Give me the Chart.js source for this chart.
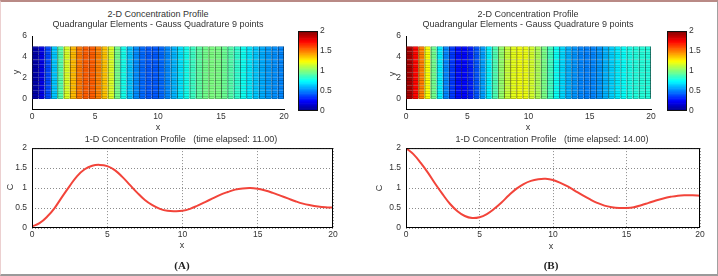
<!DOCTYPE html>
<html><head><meta charset="utf-8">
<script src="https://cdn.jsdelivr.net/npm/chart.js@4.4.1/dist/chart.umd.min.js"></script>
<style>
html,body{margin:0;padding:0;background:#fff;}
#wrap{position:relative;width:718px;height:276px;overflow:hidden;background:#fff;}
#frame{position:absolute;left:0;top:0;width:716px;height:272px;border-top:2px solid #b98a86;border-left:1px solid #ecd0d0;border-right:1px solid #a0a0a0;border-bottom:2px solid #9a9a9a;}
canvas{position:absolute;}
.t{position:absolute;transform:translate(-50%,-50%);font-family:"Liberation Sans",Arial,sans-serif;font-size:9px;color:#333;white-space:pre;line-height:1;}
.r{transform:translate(-50%,-50%) rotate(-90deg);}
.p{font-family:"Liberation Serif",serif;font-weight:bold;font-size:11px;color:#222;}
</style></head>
<body>
<div id="wrap">
<div id="frame"></div>
<canvas id="heatA" width="292" height="104" style="left:0;top:26px"></canvas>
<canvas id="cbarA" width="40" height="94" style="left:292px;top:24px"></canvas>
<canvas id="lineA" width="340" height="104" style="left:0;top:138px"></canvas>
<canvas id="heatB" width="300" height="104" style="left:360px;top:26px"></canvas>
<canvas id="cbarB" width="40" height="94" style="left:661px;top:24px"></canvas>
<canvas id="lineB" width="350" height="104" style="left:360px;top:138px"></canvas>

<div class="t" style="left:158px;top:14px">2-D Concentration Profile</div>
<div class="t" style="left:158px;top:23.5px">Quadrangular Elements - Gauss Quadrature 9 points</div>
<div class="t" style="left:158px;top:127px">x</div>
<div class="t r" style="left:16px;top:72px">y</div>
<div class="t" style="left:181px;top:139px">1-D Concentration Profile   (time elapsed: 11.00)</div>
<div class="t" style="left:182px;top:245px">x</div>
<div class="t r" style="left:10px;top:187px">C</div>
<div class="t p" style="left:182px;top:265px">(A)</div>

<div class="t" style="left:528px;top:14px">2-D Concentration Profile</div>
<div class="t" style="left:528px;top:23.5px">Quadrangular Elements - Gauss Quadrature 9 points</div>
<div class="t" style="left:528px;top:127px">x</div>
<div class="t r" style="left:392px;top:74px">y</div>
<div class="t" style="left:552px;top:139px">1-D Concentration Profile   (time elapsed: 14.00)</div>
<div class="t" style="left:551px;top:246px">x</div>
<div class="t r" style="left:379px;top:188px">C</div>
<div class="t p" style="left:551px;top:265px">(B)</div>
</div>
<script>
// ---- data ----
const xNodes = [0,0.5,1,1.5,2,2.5,3,3.5,4,4.5,5,5.5,6,6.5,7,7.5,8,8.5,9,9.5,10,10.5,11,11.5,12,12.5,13,13.5,14,14.5,15,15.5,16,16.5,17,17.5,18,18.5,19,19.5,20];
const concA = [0.04,0.12,0.28,0.5,0.78,1.05,1.3,1.47,1.56,1.58,1.55,1.45,1.28,1.08,0.88,0.7,0.57,0.48,0.43,0.42,0.43,0.48,0.56,0.65,0.74,0.83,0.9,0.96,0.99,1.0,0.98,0.94,0.88,0.81,0.74,0.67,0.61,0.57,0.54,0.52,0.51];
const concB = [2.0,1.85,1.63,1.38,1.1,0.84,0.6,0.42,0.3,0.25,0.27,0.35,0.48,0.64,0.82,0.98,1.1,1.18,1.22,1.23,1.2,1.13,1.04,0.93,0.82,0.72,0.63,0.56,0.52,0.5,0.5,0.52,0.57,0.63,0.69,0.74,0.78,0.81,0.82,0.82,0.81];
const meshRows = [0,0.25,0.5,0.75,1,1.25,1.5,1.75,2,2.25,2.5,2.75,3,3.25,3.5,3.75,4,4.25,4.5,4.75,5];
const xTicks = [0,5,10,15,20];
const heatYTicks = [0,2,4,6];
const lineYTicks = [0,0.5,1,1.5,2];
const cbarTicks = [0,0.5,1,1.5,2];
const cMax = 2;

Chart.defaults.font.family = '"Liberation Sans", Arial, sans-serif';
Chart.defaults.font.size = 8.5;
Chart.defaults.color = '#333';

function jet(t){
  t = Math.max(0, Math.min(1, t));
  const f = v => Math.round(255 * Math.max(0, Math.min(1, v)));
  return [f(1.5-Math.abs(4*t-3)), f(1.5-Math.abs(4*t-2)), f(1.5-Math.abs(4*t-1))];
}
const rgb = (c,k=1) => `rgb(${Math.round(c[0]*k)},${Math.round(c[1]*k)},${Math.round(c[2]*k)})`;
const setTicks = arr => s => { s.ticks = arr.map(v => ({value: v})); };
const fmt = v => String(v);

function makeHeat(id, conc, yw, pr){
  const centers = [], colors = [];
  for (let i = 0; i < xNodes.length - 1; i++) {
    centers.push((xNodes[i] + xNodes[i+1]) / 2);
    colors.push(jet(((conc[i] + conc[i+1]) / 2) / cMax));
  }
  const nRows = meshRows.length - 1;
  const datasets = [{
    data: centers.map(x => ({x, y: [meshRows[0], meshRows[nRows]]})),
    backgroundColor: 'rgba(0,0,0,0)',
    borderColor: 'rgba(20,20,20,0.55)',
    borderWidth: ctx => ({left: 1, top: 0, bottom: 0, right: ctx.dataIndex === centers.length - 1 ? 1 : 0}),
    borderSkipped: false, grouped: false, inflateAmount: 0
  }];
  for (let r = 0; r < nRows; r++) {
    datasets.push({
      data: centers.map(x => ({x, y: [meshRows[r], meshRows[r+1]]})),
      backgroundColor: colors.map(c => rgb(c)),
      borderColor: colors.map(c => rgb(c, 0.78)),
      borderWidth: {left: 0, right: 0, top: 1, bottom: r === 0 ? 1 : 0},
      borderSkipped: false, grouped: false
    });
  }
  new Chart(document.getElementById(id), {
    type: 'bar',
    data: {datasets},
    options: {
      responsive: false, animation: false, devicePixelRatio: 1,
      categoryPercentage: 1, barPercentage: 1,
      layout: {autoPadding: false, padding: {left: 0, top: 7, right: pr, bottom: 0}},
      plugins: {legend: {display: false}, tooltip: {enabled: false}},
      scales: {
        x: {type: 'linear', min: 0, max: 20, offset: false,
            afterBuildTicks: setTicks(xTicks), afterFit: s => { s.height = 21; },
            grid: {display: false, drawTicks: false, offset: false},
            border: {display: true, color: '#000', width: 1},
            ticks: {padding: 3, maxRotation: 0, callback: fmt}},
        y: {type: 'linear', min: -1, max: 6,
            afterBuildTicks: setTicks(heatYTicks), afterFit: s => { s.width = yw; },
            grid: {display: false, drawTicks: false},
            border: {display: true, color: '#000', width: 1},
            ticks: {padding: 5, callback: fmt}}
      }
    }
  });
}

function makeCbar(id){
  const n = 64, segs = [], cols = [];
  for (let i = 0; i < n; i++) {
    segs.push({x: 'c', y: [cMax * i / n, cMax * (i + 1) / n]});
    cols.push(rgb(jet((i + 0.5) / n)));
  }
  new Chart(document.getElementById(id), {
    type: 'bar',
    data: {labels: ['c'], datasets: [
      {data: [{x: 'c', y: [0, cMax]}], backgroundColor: 'rgba(0,0,0,0)', borderColor: '#111', borderWidth: 1, borderSkipped: false, grouped: false, inflateAmount: 0},
      {data: segs, backgroundColor: cols, borderWidth: 0, grouped: false}
    ]},
    options: {
      responsive: false, animation: false, devicePixelRatio: 1,
      categoryPercentage: 1, barPercentage: 1,
      layout: {autoPadding: false, padding: {left: 6, top: 6, right: 0, bottom: 7}},
      plugins: {legend: {display: false}, tooltip: {enabled: false}},
      scales: {
        x: {type: 'category', display: false},
        y: {type: 'linear', position: 'right', min: 0, max: cMax,
            afterBuildTicks: setTicks(cbarTicks), afterFit: s => { s.width = 14; },
            grid: {display: false, drawTicks: false},
            border: {display: false},
            ticks: {padding: 2, callback: fmt}}
      }
    }
  });
}

const framePlugin = {
  id: 'frame',
  afterDatasetsDraw(chart){
    const {ctx, chartArea: a} = chart;
    ctx.save(); ctx.strokeStyle = '#000'; ctx.lineWidth = 1;
    ctx.strokeRect(a.left + 0.5, a.top + 0.5, a.right - a.left - 1, a.bottom - a.top - 1);
    ctx.restore();
  }
};

function makeLine(id, conc, yw, pr){
  new Chart(document.getElementById(id), {
    type: 'line',
    data: {datasets: [{
      data: xNodes.map((x, i) => ({x, y: conc[i]})),
      borderColor: '#f2443a', borderWidth: 2, pointRadius: 0, tension: 0.4, fill: false
    }]},
    options: {
      responsive: false, animation: false, devicePixelRatio: 1,
      layout: {autoPadding: false, padding: {left: 0, top: 8, right: pr, bottom: 0}},
      plugins: {legend: {display: false}, tooltip: {enabled: false}},
      scales: {
        x: {type: 'linear', min: 0, max: 20,
            afterBuildTicks: setTicks(xTicks), afterFit: s => { s.height = 14; },
            grid: {color: '#8c8c8c', lineWidth: 1, drawTicks: false},
            border: {display: false, dash: [1, 2]},
            ticks: {padding: 2, maxRotation: 0, callback: fmt}},
        y: {type: 'linear', min: 0, max: 2,
            afterBuildTicks: setTicks(lineYTicks), afterFit: s => { s.width = yw; },
            grid: {color: '#8c8c8c', lineWidth: 1, drawTicks: false},
            border: {display: false, dash: [1, 2]},
            ticks: {padding: 5, callback: fmt}}
      }
    },
    plugins: [framePlugin]
  });
}

makeHeat('heatA', concA, 32, 8);
makeHeat('heatB', concB, 46, 9);
makeCbar('cbarA');
makeCbar('cbarB');
makeLine('lineA', concA, 32, 7);
makeLine('lineB', concB, 46, 10);
</script>
</body></html>
